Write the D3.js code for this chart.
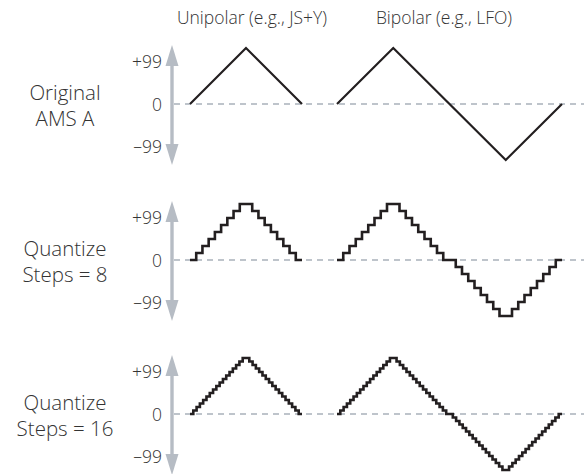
<!DOCTYPE html>
<html>
<head>
<meta charset="utf-8">
<script src="https://cdn.jsdelivr.net/npm/d3@7"></script>
<style>
  html, body { margin: 0; padding: 0; background: #ffffff; }
  svg { display: block; }
  text { font-family: "Open Sans", "Noto Sans", sans-serif; font-weight: 300; fill: #333333; }
</style>
</head>
<body>
<script>
// ---------- data ----------
const columnTitles = ["Unipolar (e.g., JS+Y)", "Bipolar (e.g., LFO)"];
const rowLabels = [["Original", "AMS A"], ["Quantize", "Steps = 8"], ["Quantize", "Steps = 16"]];
const tickLabels = ["+99", "0", "\u201399"];
const tickValues = [99, 0, -99];

// original AMS A (value at each quarter period)
const origUnipolar = [0, 99, 0];
const origBipolar = [0, 99, 0, -99, 0];

// quantized, steps = 8 (level held over each time slot)
const q8Unipolar = [0, 1, 2, 3, 4, 5, 6, 7, 8, 8, 7, 6, 5, 4, 3, 2, 1, 0];
const q8Bipolar = [0, 1, 2, 3, 4, 5, 6, 7, 8, 8, 7, 6, 5, 4, 3, 2, 1, 0,
                   0, -1, -2, -3, -4, -5, -6, -7, -8, -8, -7, -6, -5, -4, -3, -2, -1, 0];

// quantized, steps = 16
const q16Unipolar = [0, 1, 2, 3, 4, 5, 6, 7, 8, 9, 10, 11, 12, 13, 14, 15, 16,
                     16, 15, 14, 13, 12, 11, 10, 9, 8, 7, 6, 5, 4, 3, 2, 1, 0];
const q16Bipolar = [0, 1, 2, 3, 4, 5, 6, 7, 8, 9, 10, 11, 12, 13, 14, 15, 16,
                    16, 15, 14, 13, 12, 11, 10, 9, 8, 7, 6, 5, 4, 3, 2, 1, 0,
                    0, -1, -2, -3, -4, -5, -6, -7, -8, -9, -10, -11, -12, -13, -14, -15, -16,
                    -16, -15, -14, -13, -12, -11, -10, -9, -8, -7, -6, -5, -4, -3, -2, -1, 0];

const panels = [
  { max: 99, stepped: false, uni: origUnipolar, bi: origBipolar },
  { max: 8, stepped: true, uni: q8Unipolar, bi: q8Bipolar },
  { max: 16, stepped: true, uni: q16Unipolar, bi: q16Bipolar }
];

// ---------- layout ----------
const W = 584, H = 474;
const zeroY = [104, 260, 414];
const amp = 56;           // pixel height of full-scale value
const axisX = 172;
const uniRange = [190, 302];
const biRange = [337, 562];

const svg = d3.select("body").append("svg")
  .attr("width", W).attr("height", H);

// column titles
const titleX = [252, 444];
svg.selectAll("text.title").data(columnTitles).enter().append("text")
  .attr("class", "title")
  .attr("x", (d, i) => titleX[i])
  .attr("y", 24)
  .attr("text-anchor", "middle")
  .style("font-size", "17.5px")
  .text(d => d);

const axisColor = "#b6bcc4";
const dashColor = "#a9b1bb";
const lineColor = "#231f20";

panels.forEach((p, pi) => {
  const z = zeroY[pi];
  const g = svg.append("g");
  const y = d3.scaleLinear().domain([-p.max, p.max]).range([z + amp, z - amp]);
  const labelY = d3.scaleLinear().domain([-99, 99]).range([z + 43, z - 42]);

  // row label
  const lbl = g.append("text")
    .attr("x", 65)
    .attr("text-anchor", "middle")
    .style("font-size", "20.5px");
  rowLabels[pi].forEach((t, li) => {
    lbl.append("tspan").attr("x", 65).attr("y", z - 4 + li * 26).text(t);
  });

  // dashed zero line
  g.append("line")
    .attr("x1", axisX + 2).attr("x2", W)
    .attr("y1", y(0)).attr("y2", y(0))
    .attr("stroke", dashColor).attr("stroke-width", 1.3)
    .attr("stroke-dasharray", "6,5");

  // double-headed vertical arrow
  const top = z - 59, bot = z + 61, head = 21, hw = 6.5;
  g.append("line")
    .attr("x1", axisX).attr("x2", axisX)
    .attr("y1", top + head - 2).attr("y2", bot - head + 2)
    .attr("stroke", axisColor).attr("stroke-width", 3.4);
  g.append("path")
    .attr("d", `M${axisX},${top} L${axisX + hw},${top + head} L${axisX - hw},${top + head} Z`)
    .attr("fill", axisColor);
  g.append("path")
    .attr("d", `M${axisX},${bot} L${axisX + hw},${bot - head} L${axisX - hw},${bot - head} Z`)
    .attr("fill", axisColor);

  // tick labels
  g.selectAll("text.tick").data(tickLabels).enter().append("text")
    .attr("class", "tick")
    .attr("x", 162)
    .attr("y", (d, i) => labelY(tickValues[i]))
    .attr("dy", "0.36em")
    .attr("text-anchor", "end")
    .style("font-size", "17.5px")
    .text(d => d);

  // waveforms
  [[p.uni, uniRange], [p.bi, biRange]].forEach(([vals, range]) => {
    let pts, x;
    if (p.stepped) {
      x = d3.scaleLinear().domain([0, vals.length]).range(range);
      pts = vals.map((v, i) => [i, v]);
      pts.push([vals.length, vals[vals.length - 1]]);
    } else {
      x = d3.scaleLinear().domain([0, vals.length - 1]).range(range);
      pts = vals.map((v, i) => [i, v]);
    }
    const line = d3.line()
      .x(d => x(d[0])).y(d => y(d[1]))
      .curve(p.stepped ? d3.curveStepAfter : d3.curveLinear);
    g.append("path")
      .attr("d", line(pts))
      .attr("fill", "none")
      .attr("stroke", lineColor)
      .attr("stroke-width", p.stepped ? 2.6 : 2.2)
      .attr("stroke-linejoin", "miter")
      .attr("stroke-linecap", "butt");
  });
});
</script>
</body>
</html>
